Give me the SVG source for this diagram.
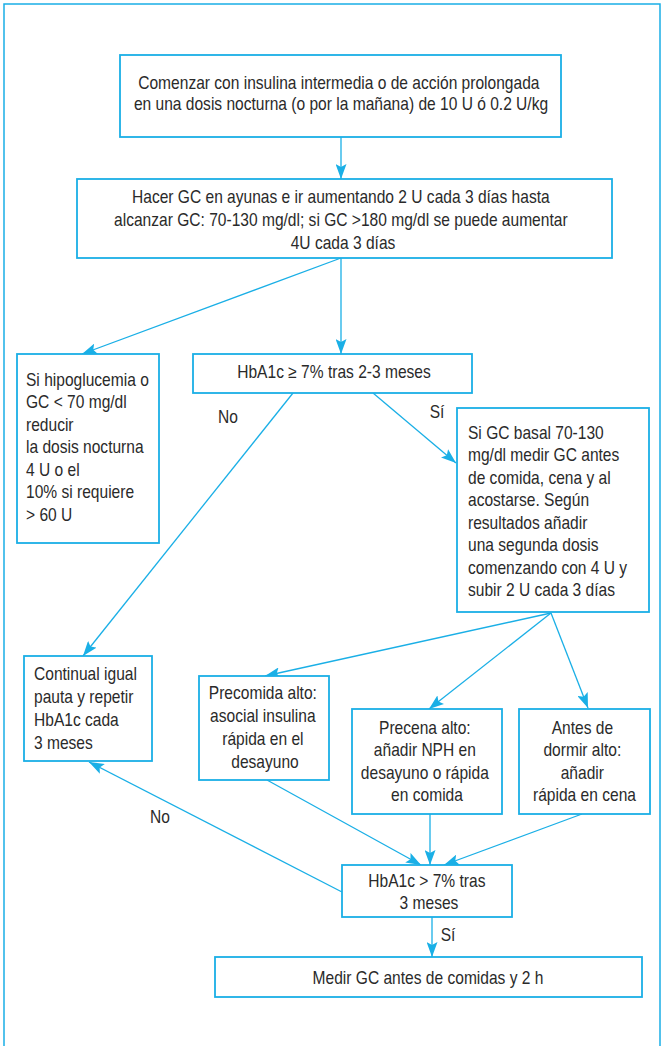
<svg xmlns="http://www.w3.org/2000/svg" width="663" height="1046" viewBox="0 0 663 1046">
  <style>
    .frame { fill: none; stroke: #1aafe6; stroke-width: 1.5; }
    .box { fill: #ffffff; stroke: #1aafe6; stroke-width: 1.8; }
    .ln { fill: none; stroke: #1aafe6; stroke-width: 1.3; marker-end: url(#ah); }
    text { font-family: "Liberation Sans", Arial, Helvetica, sans-serif; font-size: 18px; fill: #2a2a2a; }
    .m { text-anchor: middle; }
  </style>
  <defs>
    <marker id="ah" viewBox="0 0 15 11" refX="15" refY="5.5" markerWidth="15" markerHeight="11" markerUnits="userSpaceOnUse" orient="auto">
      <path d="M0,0 L15,5.5 L0,11 L3,5.5 z" fill="#1aafe6"/>
    </marker>
  </defs>

  <rect width="663" height="1046" fill="#ffffff"/>
  <!-- outer frame, open at the bottom -->
  <path class="frame" d="M4,1046 V4 H660 V1046"/>

  <!-- connectors -->
  <g id="connectors">
    <line class="ln" x1="341" y1="137" x2="341" y2="179"/>
    <line class="ln" x1="341" y1="258" x2="341" y2="354"/>
    <line class="ln" x1="341" y1="258" x2="82" y2="354"/>
    <line class="ln" x1="293" y1="393" x2="83" y2="656"/>
    <line class="ln" x1="373" y1="393" x2="456" y2="463"/>
    <line class="ln" x1="551" y1="613" x2="265" y2="676"/>
    <line class="ln" x1="551" y1="613" x2="429" y2="709"/>
    <line class="ln" x1="551" y1="613" x2="588" y2="708"/>
    <line class="ln" x1="267" y1="780" x2="421" y2="865"/>
    <line class="ln" x1="430" y1="814" x2="430" y2="865"/>
    <line class="ln" x1="582" y1="814" x2="444" y2="865"/>
    <line class="ln" x1="342" y1="892" x2="89" y2="762"/>
    <line class="ln" x1="432" y1="917" x2="432" y2="957"/>
  </g>

  <!-- branch labels -->
  <g id="labels">
    <text class="m" transform="translate(228,0) scale(0.865,1)" x="0" y="423">No</text>
    <text class="m" transform="translate(437,0) scale(0.865,1)" x="0" y="418">Sí</text>
    <text class="m" transform="translate(160,0) scale(0.865,1)" x="0" y="823">No</text>
    <text class="m" transform="translate(448,0) scale(0.865,1)" x="0" y="941">Sí</text>
  </g>

  <g id="start">
    <rect class="box" x="120" y="55" width="441" height="82"/>
    <text class="m" transform="translate(341,0) scale(0.865,1)">
      <tspan x="0" y="89">Comenzar con insulina intermedia o de acción prolongada</tspan>
      <tspan x="0" y="110">en una dosis nocturna (o por la mañana) de 10 U ó 0.2 U/kg</tspan>
    </text>
  </g>

  <g id="titrate">
    <rect class="box" x="77" y="179" width="535" height="79"/>
    <text class="m" transform="translate(343,0) scale(0.865,1)">
      <tspan x="0" y="203">Hacer GC en ayunas e ir aumentando 2 U cada 3 días hasta</tspan>
      <tspan x="0" y="226">alcanzar GC: 70-130 mg/dl; si GC &gt;180 mg/dl se puede aumentar</tspan>
      <tspan x="0" y="249">4U cada 3 días</tspan>
    </text>
  </g>

  <g id="hypo">
    <rect class="box" x="17" y="354" width="142" height="189"/>
    <text transform="translate(26,0) scale(0.865,1)">
      <tspan x="0" y="386">Si hipoglucemia o</tspan>
      <tspan x="0" y="408.5">GC &lt; 70 mg/dl</tspan>
      <tspan x="0" y="431">reducir</tspan>
      <tspan x="0" y="453.5">la dosis nocturna</tspan>
      <tspan x="0" y="476">4 U o el</tspan>
      <tspan x="0" y="498.5">10% si requiere</tspan>
      <tspan x="0" y="521">&gt; 60 U</tspan>
    </text>
  </g>

  <g id="hba1c-check">
    <rect class="box" x="193" y="354" width="279" height="39"/>
    <text class="m" transform="translate(334,0) scale(0.865,1)" x="0" y="378">HbA1c ≥ 7% tras 2-3 meses</text>
  </g>

  <g id="basal-ok">
    <rect class="box" x="457" y="408" width="192" height="204"/>
    <text transform="translate(468,0) scale(0.865,1)">
      <tspan x="0" y="439">Si GC basal 70-130</tspan>
      <tspan x="0" y="461.5">mg/dl medir GC antes</tspan>
      <tspan x="0" y="484">de comida, cena y al</tspan>
      <tspan x="0" y="506.5">acostarse. Según</tspan>
      <tspan x="0" y="529">resultados añadir</tspan>
      <tspan x="0" y="551.5">una segunda dosis</tspan>
      <tspan x="0" y="574">comenzando con 4 U y</tspan>
      <tspan x="0" y="596.5">subir 2 U cada 3 días</tspan>
    </text>
  </g>

  <g id="continue">
    <rect class="box" x="24" y="656" width="128" height="105"/>
    <text transform="translate(34,0) scale(0.865,1)">
      <tspan x="0" y="680">Continual igual</tspan>
      <tspan x="0" y="703">pauta y repetir</tspan>
      <tspan x="0" y="726">HbA1c cada</tspan>
      <tspan x="0" y="749">3 meses</tspan>
    </text>
  </g>

  <g id="precomida">
    <rect class="box" x="199" y="676" width="130" height="104"/>
    <text class="m" transform="translate(265,0) scale(0.865,1)">
      <tspan x="0" y="699">Precomida alto:</tspan>
      <tspan x="0" y="722">asocial insulina</tspan>
      <tspan x="0" y="745">rápida en el</tspan>
      <tspan x="0" y="768">desayuno</tspan>
    </text>
  </g>

  <g id="precena">
    <rect class="box" x="352" y="709" width="150" height="105"/>
    <text class="m" transform="translate(427,0) scale(0.865,1)">
      <tspan x="0" y="734">Precena alto:</tspan>
      <tspan x="0" y="756.5">añadir NPH en</tspan>
      <tspan x="0" y="779">desayuno o rápida</tspan>
      <tspan x="0" y="801.5">en comida</tspan>
    </text>
  </g>

  <g id="bedtime">
    <rect class="box" x="519" y="709" width="131" height="105"/>
    <text class="m" transform="translate(584.5,0) scale(0.865,1)">
      <tspan x="0" y="734">Antes de</tspan>
      <tspan x="0" y="756.5">dormir alto:</tspan>
      <tspan x="0" y="779">añadir</tspan>
      <tspan x="0" y="801.5">rápida en cena</tspan>
    </text>
  </g>

  <g id="hba1c-recheck">
    <rect class="box" x="342" y="865" width="170" height="52"/>
    <text class="m" transform="translate(429,0) scale(0.865,1)">
      <tspan x="0" y="887">HbA1c &gt; 7% tras</tspan>
      <tspan x="0" y="909">3 meses</tspan>
    </text>
  </g>

  <g id="measure">
    <rect class="box" x="215" y="957" width="427" height="40"/>
    <text class="m" transform="translate(428,0) scale(0.865,1)" x="0" y="984">Medir GC antes de comidas y 2 h</text>
  </g>
</svg>
